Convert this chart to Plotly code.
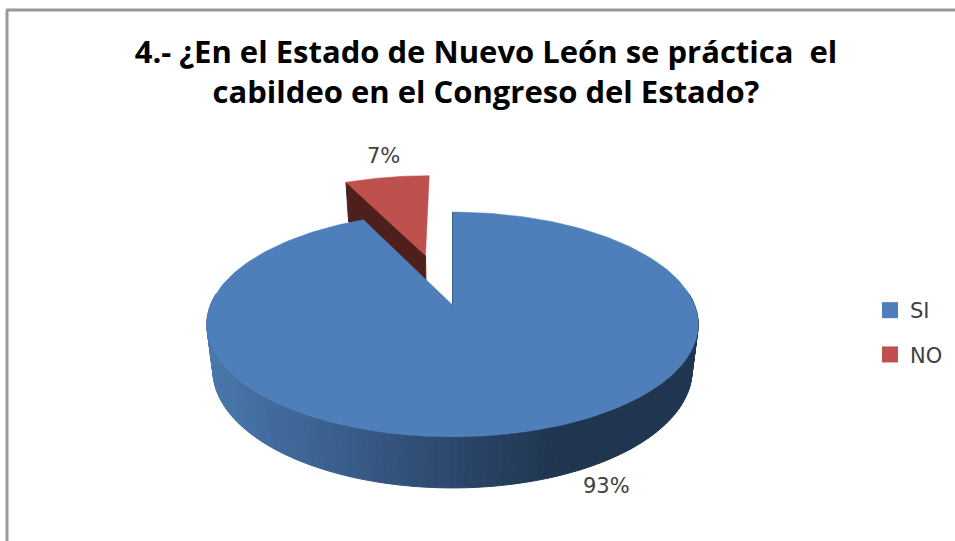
import numpy as np
import plotly.graph_objects as go

categories = ["SI", "NO"]
values = [93, 7]
colors = ["#4E7FBB", "#BE504D"]
title = "4.- ¿En el Estado de Nuevo León se práctica  el<br>cabildeo en el Congreso del Estado?"

W, H = 955, 541
CX, CY = 452.5, 305.0
RX, RY, K = 242.0, 109.0, 0.173
DEPTH, SHRINK = 45.0, 0.975
EXPLODE = {"NO": 0.5, "SI": 0.0}


def project(u, v, bottom=False):
    """Perspective projection of pie-disc coordinates to the plotting plane."""
    f = 1.0 / (1.0 + K * v)
    x = CX + RX * u * f
    y = CY - RY * v * f
    if bottom:
        x = CX + (x - CX) * SHRINK
        y = CY + (y - CY) * SHRINK + DEPTH * f
    return x, y


def disc(theta, offset=(0.0, 0.0)):
    t = np.radians(theta)
    return np.sin(t) + offset[0], np.cos(t) + offset[1]


def mix(x):
    stops_x = [205, 300, 480, 560, 700]
    r = np.interp(x, stops_x, [74, 62, 41, 31, 31])
    g = np.interp(x, stops_x, [120, 101, 66, 53, 53])
    b = np.interp(x, stops_x, [172, 150, 100, 80, 80])
    return f"rgb({r:.0f},{g:.0f},{b:.0f})"


total = sum(values)
spans = {}
start = 0.0
for name, val in zip(categories, values):
    spans[name] = (start, start + 360.0 * val / total)
    start += 360.0 * val / total

fig = go.Figure()


def poly(xs, ys, color, line=1):
    fig.add_trace(go.Scatter(
        x=xs, y=ys, mode="lines", fill="toself", fillcolor=color,
        line=dict(color=color, width=line), hoverinfo="skip", showlegend=False))


# NO: exploded wedge (cut face then top)
a0, a1 = spans["NO"]
mid = np.radians((a0 + a1) / 2)
off = (EXPLODE["NO"] * np.sin(mid) - 0.012, EXPLODE["NO"] * np.cos(mid) + 0.005)
ou, ov = disc(a0, off)
tx0, ty0 = project(off[0], off[1])
tx1, ty1 = project(off[0], off[1], True)
ox0, oy0 = project(ou, ov)
ox1, oy1 = project(ou, ov, True)
poly([tx0, ox0, ox1, tx1, tx0], [ty0, oy0, oy1, ty1, ty0], "#4F1F1C")
thetas = np.linspace(a0, a1, 40)
u, v = disc(thetas, off)
px, py = project(u, v)
poly([tx0, *px, tx0], [ty0, *py, ty0], colors[1], 0.5)

# SI: rim wall, drawn as gradient strips
a0, a1 = spans["SI"]
wall = np.linspace(84, 276, 130)
for t0, t1 in zip(wall[:-1], wall[1:]):
    u0, v0 = disc(t0)
    u1, v1 = disc(t1)
    xa, ya = project(u0, v0)
    xb, yb = project(u1, v1)
    xc, yc = project(u1, v1, True)
    xd, yd = project(u0, v0, True)
    poly([xa, xb, xc, xd, xa], [ya, yb, yc, yd, ya], mix((xa + xb) / 2))

# SI: top
thetas = np.linspace(a0, a1, 240)
u, v = disc(thetas)
px, py = project(u, v)
cx0, cy0 = project(0.0, 0.0)
poly([cx0, *px, cx0], [cy0, *py, cy0], colors[0], 0.5)
# thin visible edge of the cut at 12 o'clock
fig.add_trace(go.Scatter(x=[cx0, px[0]], y=[cy0, py[0]], mode="lines",
                         line=dict(color="#3A5F8C", width=1),
                         hoverinfo="skip", showlegend=False))

# Legend entries
for i, (name, col) in enumerate(zip(categories, colors)):
    fig.add_trace(go.Scatter(x=[None], y=[None], mode="markers", name=name,
                             legendgroup=name,
                             marker=dict(symbol="square", size=16, color=col)))

# Percent labels
label_pos = {"SI": (606, 486), "NO": (383, 156)}
annotations = [
    dict(x=label_pos[n][0], y=label_pos[n][1], xref="x", yref="y",
         text=f"{val}%", showarrow=False, xanchor="center", yanchor="middle",
         font=dict(family="DejaVu Sans", size=21, color="#404040"))
    for n, val in zip(categories, values)
]

fig.update_layout(
    width=W, height=H, autosize=False,
    margin=dict(l=0, r=0, t=0, b=0),
    paper_bgcolor="white", plot_bgcolor="white",
    xaxis=dict(range=[0, W], visible=False, fixedrange=True),
    yaxis=dict(range=[H, 0], visible=False, fixedrange=True),
    title=dict(text=title, x=486 / W, xanchor="center", y=0.884, yanchor="top",
               font=dict(family="Open Sans", size=31, color="#000000", weight="bold")),
    legend=dict(x=870 / W, y=1 - 290 / H, xanchor="left", yanchor="top",
                tracegroupgap=14, traceorder="grouped",
                font=dict(family="DejaVu Sans", size=21, color="#404040"),
                bgcolor="rgba(0,0,0,0)", itemwidth=30),
    annotations=annotations,
    shapes=[
        dict(type="line", xref="paper", yref="paper", x0=6 / W, x1=1, y0=1 - 10 / H, y1=1 - 10 / H,
             line=dict(color="#999999", width=3)),
        dict(type="line", xref="paper", yref="paper", x0=7 / W, x1=7 / W, y0=1 - 10 / H, y1=0,
             line=dict(color="#999999", width=3)),
    ],
)

fig.write_html("out.html", config={"displayModeBar": False},
               post_script="document.body.style.margin='0';")
